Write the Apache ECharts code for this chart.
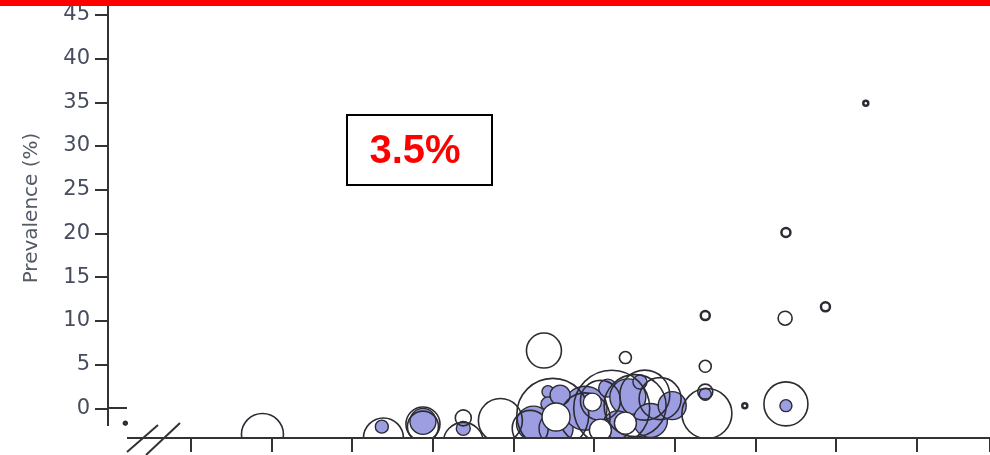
<!DOCTYPE html>
<html>
<head>
<meta charset="utf-8">
<script src="https://cdn.jsdelivr.net/npm/echarts@6/dist/echarts.min.js"></script>
<style>
  html, body { margin: 0; padding: 0; background: #fff; }
  #main { width: 990px; height: 455px; }
</style>
</head>
<body>
<div id="main"></div>
<script>
// y axis ticks (prevalence %)
var yTicks = [0, 5, 10, 15, 20, 25, 30, 35, 40, 45];

// studies: [x position, prevalence %, bubble size]
var openStudies = [
  [0.19, -1.7, 3],
  [1.89, -3.0, 42],
  [3.39, -3.4, 40],
  [3.88, -1.8, 34],
  [3.88, -2.1, 31],
  [4.38, -3.9, 40],
  [4.38, -1.1, 16],
  [4.84, -1.4, 44],
  [5.38, 6.6, 35],
  [5.49, -0.7, 72],
  [6.22, 0.0, 76],
  [6.51, 0.3, 62],
  [6.82, 1.1, 42],
  [5.89, -1.1, 50],
  [5.21, -2.3, 36],
  [6.08, 0.9, 40],
  [6.63, 1.5, 50],
  [6.39, 5.8, 12],
  [7.40, -0.6, 50],
  [7.38, 1.9, 15],
  [7.38, 4.8, 12],
  [7.38, 10.6, 9],
  [7.87, 0.3, 5],
  [8.38, 0.5, 44],
  [8.37, 10.3, 14],
  [8.87, 11.6, 9],
  [8.38, 20.1, 9],
  [9.37, 34.9, 5]
];

var filledStudies = [
  [3.37, -2.1, 13],
  [3.88, -1.5, 26],
  [4.38, -2.3, 14],
  [5.25, -1.7, 34],
  [5.43, 1.9, 12],
  [5.43, 0.5, 14],
  [5.53, -2.3, 34],
  [5.89, 0.0, 44],
  [6.17, 2.3, 18],
  [6.42, 1.3, 36],
  [6.29, -1.9, 28],
  [6.70, -1.4, 34],
  [6.97, 0.3, 28],
  [6.57, 3.0, 14],
  [5.58, 1.5, 20],
  [7.38, 1.6, 12],
  [8.38, 0.3, 12]
];

// open studies with white fill, drawn on top
var frontStudies = [
  [5.53, -1.0, 28],
  [5.98, 0.7, 18],
  [6.39, -1.7, 22],
  [6.08, -2.5, 22]
];

var pooled = '3.5%';

function ringData(arr) {
  return arr.map(function (d) {
    var item = { value: d };
    if (d[2] <= 10) item.itemStyle = { borderWidth: 2.5 };
    return item;
  });
}

var myChart = echarts.init(document.getElementById('main'));
var option = {
  animation: false,
  grid: { left: 110, right: 0, top: 0, bottom: 17 },
  xAxis: {
    type: 'value',
    min: 0,
    max: 10.91,
    interval: 1,
    z: 20,
    axisLine: { show: true, onZero: false, lineStyle: { color: '#333', width: 2 } },
    axisTick: { show: true, length: 14, lineStyle: { color: '#333', width: 2 } },
    axisLabel: { show: false },
    splitLine: { show: false }
  },
  yAxis: {
    type: 'value',
    min: -3.4,
    max: 46.7,
    offset: 2,
    name: 'Prevalence (%)',
    nameLocation: 'middle',
    nameGap: 66,
    nameTextStyle: { fontFamily: 'DejaVu Sans', fontSize: 20, color: '#555a66', padding: [0, 0, 0, 22] },
    axisLine: { show: true, onZero: false, lineStyle: { color: '#333', width: 2 } },
    axisTick: { show: true, length: 13, customValues: yTicks, lineStyle: { color: '#333', width: 2 } },
    axisLabel: { customValues: yTicks, margin: 18, fontFamily: 'DejaVu Sans', fontSize: 21, color: '#474c5e' },
    splitLine: { show: false }
  },
  series: [
    {
      type: 'scatter',
      clip: false,
      data: filledStudies,
      symbolSize: function (d) { return d[2]; },
      itemStyle: { color: '#9d9de2', borderColor: '#2b2b33', borderWidth: 1.4, opacity: 1 }
    },
    {
      type: 'scatter',
      clip: false,
      data: ringData(openStudies),
      symbolSize: function (d) { return d[2]; },
      itemStyle: { color: 'rgba(255,255,255,0)', borderColor: '#2b2b33', borderWidth: 1.6, opacity: 1 }
    },
    {
      type: 'scatter',
      clip: false,
      data: frontStudies,
      symbolSize: function (d) { return d[2]; },
      itemStyle: { color: '#ffffff', borderColor: '#2b2b33', borderWidth: 1.4, opacity: 1 }
    }
  ],
  graphic: [
    // hide bubbles below the x axis
    { type: 'rect', z: 10, shape: { x: 0, y: 439, width: 990, height: 16 }, style: { fill: '#fff' } },
    // axis break corner
    { type: 'rect', z: 25, shape: { x: 96, y: 426, width: 31, height: 29 }, style: { fill: '#fff' } },
    { type: 'line', z: 30, shape: { x1: 108, y1: 408, x2: 127, y2: 408 }, style: { stroke: '#333', lineWidth: 2 } },
    { type: 'line', z: 30, shape: { x1: 127, y1: 452, x2: 158, y2: 425 }, style: { stroke: '#333', lineWidth: 2 } },
    { type: 'line', z: 30, shape: { x1: 146, y1: 455, x2: 180, y2: 423 }, style: { stroke: '#333', lineWidth: 2 } },
    // red bar on top
    { type: 'rect', z: 40, shape: { x: 0, y: 0, width: 990, height: 6 }, style: { fill: '#ff0000' } },
    // pooled prevalence box
    { type: 'rect', z: 40, shape: { x: 347, y: 115, width: 145, height: 70 }, style: { fill: '#fff', stroke: '#000', lineWidth: 2 } },
    {
      type: 'text', z: 41, x: 415, y: 152,
      style: { text: pooled, fill: '#ff0000', font: 'bold 40px "Liberation Sans", Arial', textAlign: 'center', textVerticalAlign: 'middle' }
    }
  ]
};
option && myChart.setOption(option);
</script>
</body>
</html>
